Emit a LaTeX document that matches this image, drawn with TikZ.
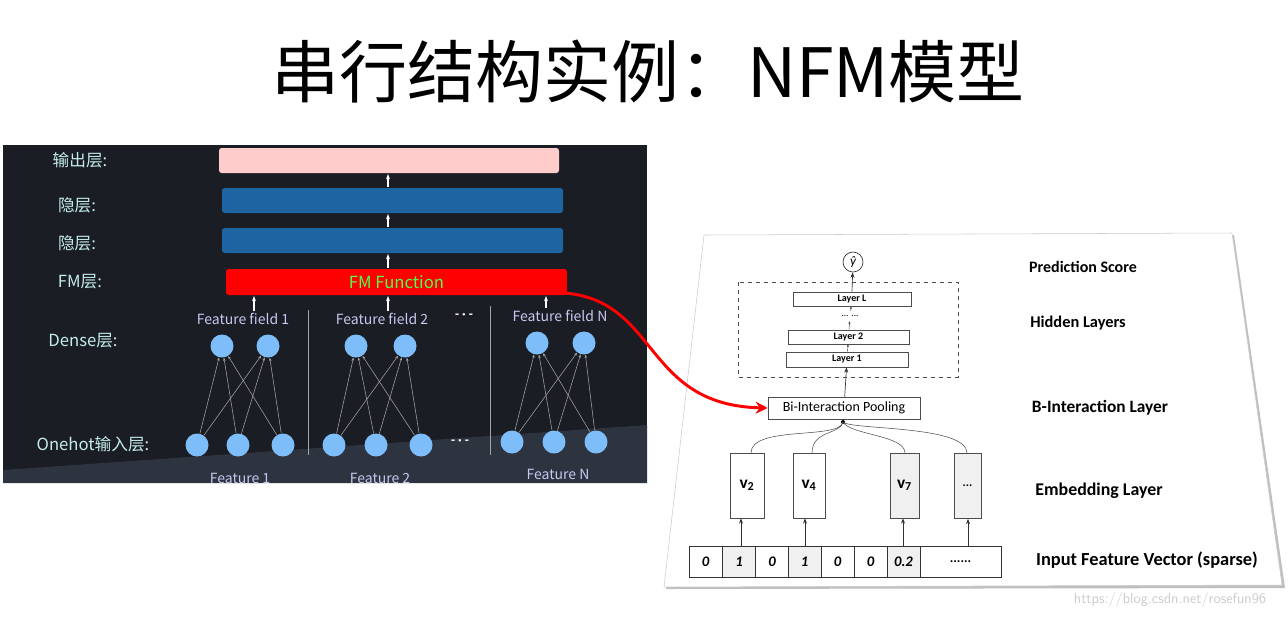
\documentclass[tikz,border=0pt]{standalone}
\usepackage{fontspec}
\setmainfont{Carlito}
\newfontfamily\cjk{Noto Sans CJK SC}
\newfontfamily\cjkl{Noto Sans CJK SC Light}
\usetikzlibrary{arrows.meta}
\definecolor{panel}{HTML}{1A1D24}
\definecolor{panelb}{HTML}{2E3340}
\definecolor{lbl}{HTML}{C4ECEC}
\definecolor{ff}{HTML}{C8C8F0}
\definecolor{blu}{HTML}{1E64A0}
\definecolor{dot}{HTML}{7DBEFA}
\begin{document}
\begin{tikzpicture}[x=0.75pt,y=-0.75pt,
 lab/.style={text=lbl,font=\cjk\fontsize{12.5}{13}\selectfont},
 ffl/.style={text=ff,font=\cjk\fontsize{10.5}{11}\selectfont},
 wa/.style={white,line width=1.2pt,-{Stealth[length=4pt]}},
 dn/.style={circle,fill=dot,minimum size=23pt*0.75,inner sep=0},
 gl/.style={gray!70,line width=0.4pt,-{Stealth[length=2.5pt]}},
 rb/.style={draw=black!70,line width=0.5pt,inner sep=0},
 rl/.style={font=\bfseries\fontsize{12}{13}\selectfont,anchor=center},
 ce/.style={draw=black!80,line width=0.5pt,minimum width=33*0.75pt,minimum height=31*0.75pt,inner sep=0,font=\bfseries\itshape\fontsize{11}{12}\selectfont},
 ar/.style={black!80,line width=0.5pt,-{Stealth[length=4pt]}}]
\useasboundingbox[fill=white] (0,0) rectangle (1288,619);
\node (title) at (648,72) {\cjk\fontsize{51}{55}\selectfont 串行结构实例：NFM模型};
% left panel
\fill[panel] (3,145) rectangle (647,483);
\fill[panelb] (3,470) -- (647,425) -- (647,483) -- (3,483) -- cycle;
\node[fill=pink!80!white,rounded corners=2pt,minimum width=340*0.75pt,minimum height=25*0.75pt] (out) at (389,160.5) {};
\node[fill=blu,rounded corners=2pt,minimum width=341*0.75pt,minimum height=25*0.75pt] (h2) at (392.5,200.5) {};
\node[fill=blu,rounded corners=2pt,minimum width=341*0.75pt,minimum height=25*0.75pt] (h1) at (392.5,240.5) {};
\node[fill=red,rounded corners=2pt,minimum width=341*0.75pt,minimum height=26*0.75pt,text=green!70!white,font=\cjk\fontsize{12.5}{13}\selectfont] (fm) at (396.5,282) {FM Function};
\draw[wa] (388,187) -- (388,174);
\draw[wa] (388,227) -- (388,214);
\draw[wa] (388,268) -- (388,254);
\node[lab] (l1) at (80,160) {输出层:};
\node[lab] (l2) at (77,205) {隐层:};
\node[lab] (l3) at (77,243) {隐层:};
\node[lab] (l4) at (80,282) {FM层:};
\node[lab] (l5) at (83,341) {Dense层:};
\node[lab] (l6) at (93,444) {Onehot输入层:};
\node[ffl] (f1) at (243,319) {Feature field 1};
\node[ffl] (f2) at (382,319) {Feature field 2};
\node[ffl] (fn) at (560,316) {Feature field N};
\node[text=white,font=\bfseries] (d1) at (464,316) {- · -};
\node[text=white,font=\bfseries] (d2) at (460,442) {- · -};
\coordinate (a1) at (254,311); \coordinate (a2) at (388,311); \coordinate (a3) at (546,308);
\draw[wa] (a1) -- (254,296); \draw[wa] (a2) -- (388,296); \draw[wa] (a3) -- (546,296);
\draw[gray!70,line width=0.4pt] (308,310) -- (308,455);
\draw[gray!70,line width=0.4pt] (490,306) -- (490,455);
\foreach \n/\x/\y in {a/222/346,b/268/346,c/356/346,d/405/346,e/537/343,f/584/343}
  \node[dn] (D\n) at (\x,\y) {};
\foreach \n/\x/\y in {1/197/445,2/238/445,3/283/445,4/334/445,5/376/445,6/421/445,7/512/442,8/554/442,9/596/442}
  \node[dn] (O\n) at (\x,\y) {};
\foreach \o in {1,2,3} \foreach \d in {a,b} \draw[gl] (O\o) -- (D\d);
\foreach \o in {4,5,6} \foreach \d in {c,d} \draw[gl] (O\o) -- (D\d);
\foreach \o in {7,8,9} \foreach \d in {e,f} \draw[gl] (O\o) -- (D\d);
\node[ffl] (g1) at (240,478) {Feature 1};
\node[ffl] (g2) at (380,478) {Feature 2};
\node[ffl] (g3) at (558,474) {Feature N};
% right panel
\fill[gray!50] (706,237) -- (1234,235) -- (1285,588) -- (666,589) -- cycle;
\fill[white,draw=gray!40] (704,235) -- (1232,233) -- (1282,585) -- (664,587) -- cycle;
\node[circle,draw=black!80,line width=0.5pt,minimum size=20*0.75pt,inner sep=0,font=\itshape] (y) at (853,262) {ŷ};
\draw[dashed,black!70,line width=0.5pt] (738,282) rectangle (958,377);
\node[rb,minimum width=118*0.75pt,minimum height=14*0.75pt,font=\bfseries\fontsize{7.5}{8}\selectfont] (L) at (852,299) {Layer L};
\node[font=\fontsize{7}{8}\selectfont] (dots) at (850,316) {... ...};
\node[rb,minimum width=121*0.75pt,minimum height=14*0.75pt,font=\bfseries\fontsize{7.5}{8}\selectfont] (L2) at (848.5,337) {Layer 2};
\node[rb,minimum width=122*0.75pt,minimum height=15*0.75pt,font=\bfseries\fontsize{7.5}{8}\selectfont] (L1) at (847,359.5) {Layer 1};
\node[rb,minimum width=152*0.75pt,minimum height=22*0.75pt,font=\fontsize{10.5}{11}\selectfont] (bi) at (844,408) {Bi-Interaction Pooling};
\draw[ar] (L.north) -- (y);
\draw[black!80,line width=0.3pt,-{Stealth[length=2pt]}] (dots) -- (L);
\draw[black!80,line width=0.3pt,-{Stealth[length=2pt]}] (L2) -- (dots);
\draw[black!80,line width=0.3pt,-{Stealth[length=2pt]}] (L1) -- (L2);
\draw[ar] (bi) -- (L1);
\node[rb,minimum width=34*0.75pt,minimum height=65*0.75pt,font=\bfseries\fontsize{13}{14}\selectfont] (v2) at (747,485.5) {v\textsubscript{2}};
\node[rb,minimum width=32*0.75pt,minimum height=65*0.75pt,font=\bfseries\fontsize{13}{14}\selectfont] (v4) at (809,485.5) {v\textsubscript{4}};
\node[rb,fill=gray!12,minimum width=29*0.75pt,minimum height=65*0.75pt,font=\bfseries\fontsize{13}{14}\selectfont] (v7) at (904.5,485.5) {v\textsubscript{7}};
\node[rb,fill=gray!12,minimum width=27*0.75pt,minimum height=65*0.75pt,font=\bfseries\fontsize{9}{10}\selectfont] (vd) at (967.5,486) {...};
\coordinate (j) at (843,422);
\fill (j) circle (2);
\draw[black!70,line width=0.4pt] (751,453) .. controls (751,425) and (840,440) .. (j);
\draw[black!70,line width=0.4pt] (812,453) .. controls (812,430) and (840,435) .. (j);
\draw[black!70,line width=0.4pt] (905,453) .. controls (905,435) and (850,435) .. (j);
\draw[black!70,line width=0.4pt] (967,453) .. controls (967,425) and (850,430) .. (j);
\foreach \n/\x/\t/\f in {c1/705.5/0/white,c2/739/1/gray!12,c3/772/0/white,c4/804.5/1/gray!12,c5/837.5/0/white,c6/870.5/0/white,c7/903.5/0.2/gray!12}
  \node[ce,fill=\f] (\n) at (\x,561.5) {\t};
\node[ce,minimum width=81*0.75pt,font=\bfseries\fontsize{10}{11}\selectfont] (c8) at (960.5,561.5) {......};
\draw[ar] (741,546) -- (v2.south -| 741,0);
\draw[ar] (805,546) -- (v4.south -| 805,0);
\draw[ar] (903,546) -- (v7.south -| 903,0);
\draw[ar] (968,546) -- (vd.south -| 968,0);
\node[rl] (t1) at (1083,267) {Prediction Score};
\node[rl,font=\bfseries\fontsize{12.3}{13}\selectfont] (t2) at (1078,323) {Hidden Layers};
\node[rl,font=\bfseries\fontsize{13}{14}\selectfont] (t3) at (1100,408) {B-Interaction Layer};
\node[rl,font=\bfseries\fontsize{13.4}{14}\selectfont] (t4) at (1099,491) {Embedding Layer};
\node[rl,font=\bfseries\fontsize{13.8}{14}\selectfont] (t5) at (1147,560) {Input Feature Vector (sparse)};
\node[text=gray!40,font=\sffamily\fontsize{11}{12}\selectfont] (wm) at (1170,600) {https://blog.csdn.net/rosefun96};
\draw[red,line width=2.2pt,-{Stealth[length=9pt,width=9pt]}] ([xshift=-8pt,yshift=2pt]fm.south east) .. controls (660,295) and (640,405) .. (bi.west);
\end{tikzpicture}
\end{document}
